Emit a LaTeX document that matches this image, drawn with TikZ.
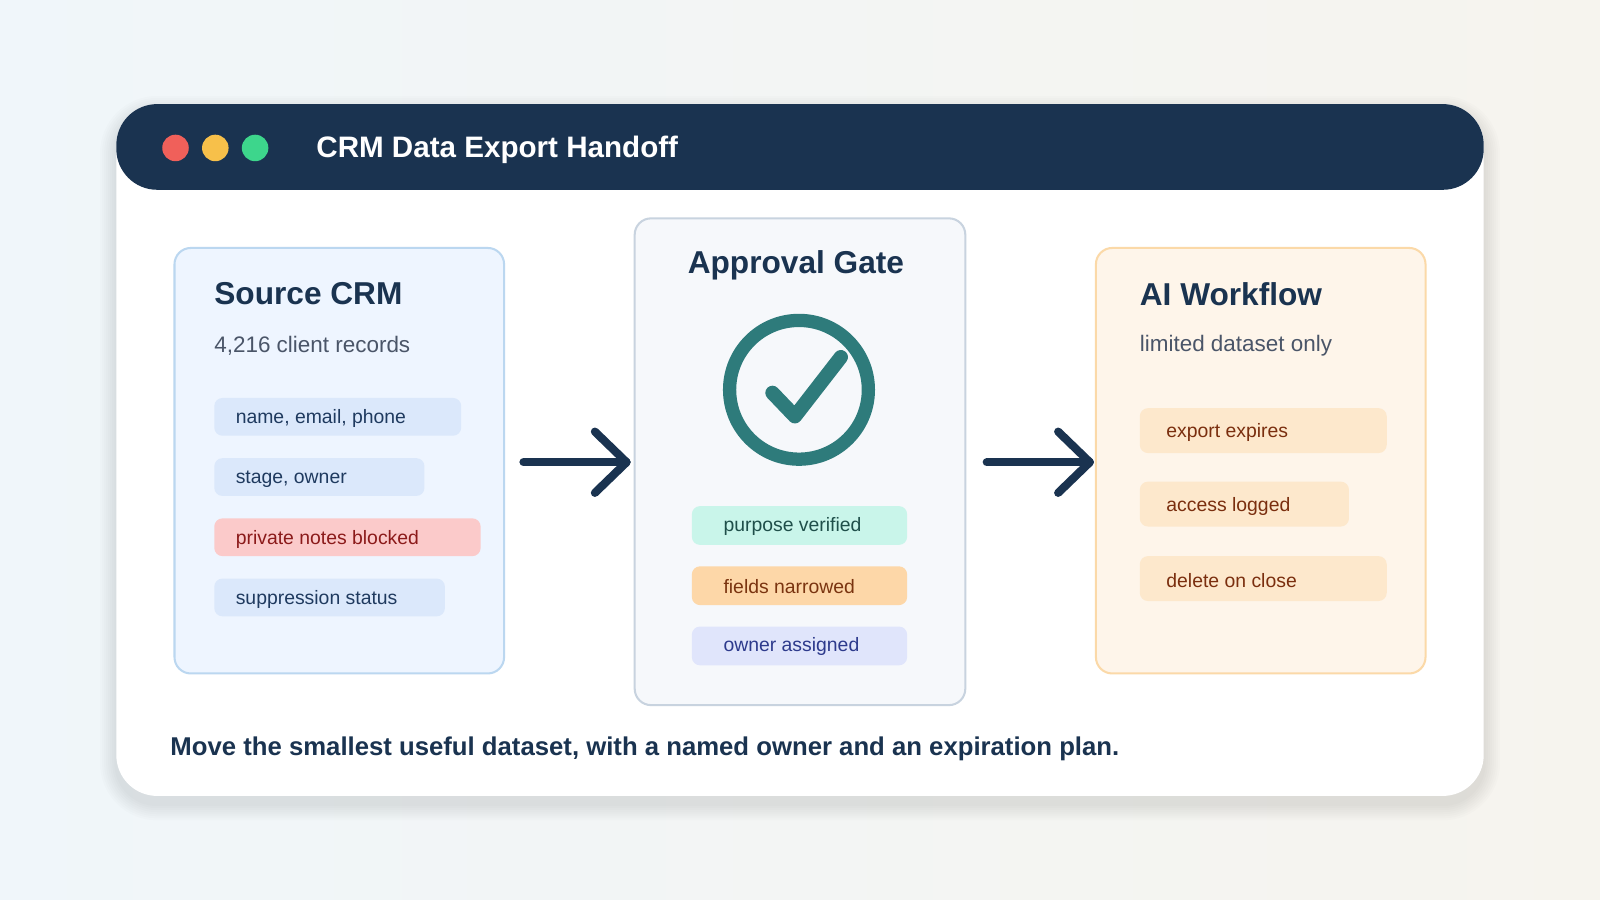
\documentclass[tikz,border=0pt]{standalone}
\usepackage{fontspec}
\setmainfont{Liberation Sans}
\definecolor{navy}{HTML}{1A3350}
\definecolor{teal}{HTML}{2E7B7B}
\definecolor{bgA}{HTML}{F0F6FA}
\definecolor{bgB}{HTML}{F6F4EE}
\definecolor{dR}{HTML}{F0605A}
\definecolor{dY}{HTML}{F7C04A}
\definecolor{dG}{HTML}{3DD68C}
\definecolor{grayt}{HTML}{4A5568}
\definecolor{sB}{HTML}{BBD7F0}\definecolor{sF}{HTML}{EEF5FF}
\definecolor{aB}{HTML}{C8D3DF}\definecolor{aF}{HTML}{F6F8FB}
\definecolor{wB}{HTML}{FBD9A8}\definecolor{wF}{HTML}{FEF5EA}
\definecolor{wP}{HTML}{FDE8CC}\definecolor{wT}{HTML}{7A2E0E}
\tikzset{
 x=0.5pt,y=-0.5pt,
 panel/.style={draw,line width=1pt,rounded corners=8pt},
 pill/.style={rounded corners=4pt,inner sep=0pt},
 ptext/.style={anchor=west,font=\fontsize{9.5}{11}\selectfont},
 arr/.style={navy,line width=4pt,line cap=round,line join=round},
}
\begin{document}
\begin{tikzpicture}
\shade[left color=bgA,right color=bgB] (0,0) rectangle (1568,882);
\useasboundingbox (0,0) rectangle (1568,882);
% card shadow
\foreach \i in {1,...,8}{
 \fill[black,opacity=0.012,rounded corners=20pt+\i pt] (114-2*\i,102-2*\i+8) rectangle (1454+2*\i,780+2*\i+8);
}
\fill[white,rounded corners=20pt] (114,102) rectangle (1454,780);
\fill[navy,rounded corners=20pt] (114,102) rectangle (1454,186);
\fill[dR] (172,145) circle (6.5pt);
\fill[dY] (211,145) circle (6.5pt);
\fill[dG] (250,145) circle (6.5pt);
\node[anchor=west,white,font=\bfseries\fontsize{14.5}{16}\selectfont] (title) at (303,147) {CRM Data Export Handoff};
% source
\draw[panel,draw=sB,fill=sF] (171,243) rectangle (494,660);
\node[anchor=west,navy,font=\bfseries\fontsize{15.5}{18}\selectfont] (s1) at (203,288) {Source CRM};
\node[anchor=west,text=grayt,font=\fontsize{11}{13}\selectfont] (s2) at (203,339) {4,216 client records};
\foreach \a/\b/\c/\t/\f/\tc in {210/452/390/{name, email, phone}/DBE8FB/1F3A5F,210/416/449/{stage, owner}/DBE8FB/1F3A5F,210/471/508/{private notes blocked}/FBCACA/8B1A1A,210/436/567/{suppression status}/DBE8FB/1F3A5F}{
 \definecolor{pf}{HTML}{\f}\definecolor{pt}{HTML}{\tc}
 \fill[pf,pill] (\a,\c) rectangle (\b,\c+37);
 \node[ptext,text=pt] at (224,\c+20.5) {\t};
}
% approval
\draw[panel,draw=aB,fill=aF] (622,214) rectangle (946,691);
\node[navy,font=\bfseries\fontsize{15.5}{18}\selectfont] (a1) at (780,260) {Approval Gate};
\draw[teal,line width=6.5pt] (783,382) circle (34pt);
\draw[teal,line width=7pt,line cap=round,line join=round] (757,385) -- (779,408) -- (824,350);
\foreach \c/\t/\f/\tc in {496/{purpose verified}/C9F5EA/1F4F4A,555/{fields narrowed}/FDD7A8/7A3410,614/{owner assigned}/E0E5FB/2D3A8C}{
 \definecolor{pf}{HTML}{\f}\definecolor{pt}{HTML}{\tc}
 \fill[pf,pill] (678,\c) rectangle (889,\c+38);
 \node[ptext,text=pt] at (702,\c+20) {\t};
}
% AI
\draw[panel,draw=wB,fill=wF] (1074,243) rectangle (1397,660);
\node[anchor=west,navy,font=\bfseries\fontsize{15.5}{18}\selectfont] (w1) at (1110,288) {AI Workflow};
\node[anchor=west,text=grayt,font=\fontsize{11}{13}\selectfont] (w2) at (1110,339) {limited dataset only};
\foreach \b/\c/\t in {1359/400/{export expires},1322/472/{access logged},1359/545/{delete on close}}{
 \fill[wP,pill] (1117,\c) rectangle (\b,\c+44);
 \node[ptext,text=wT] at (1136,\c+24) {\t};
}
% arrows
\coordinate (a1s) at (513,453); \coordinate (a1e) at (614,453);
\draw[arr] (a1s) -- (a1e); \draw[arr] (583,423) -- (a1e) -- (583,483);
\coordinate (a2s) at (967,453); \coordinate (a2e) at (1068,453);
\draw[arr] (a2s) -- (a2e); \draw[arr] (1037,423) -- (a2e) -- (1037,483);
\node[anchor=west,navy,font=\bfseries\fontsize{12.6}{14}\selectfont] (foot) at (160,734) {Move the smallest useful dataset, with a named owner and an expiration plan.};
\end{tikzpicture}
\end{document}
